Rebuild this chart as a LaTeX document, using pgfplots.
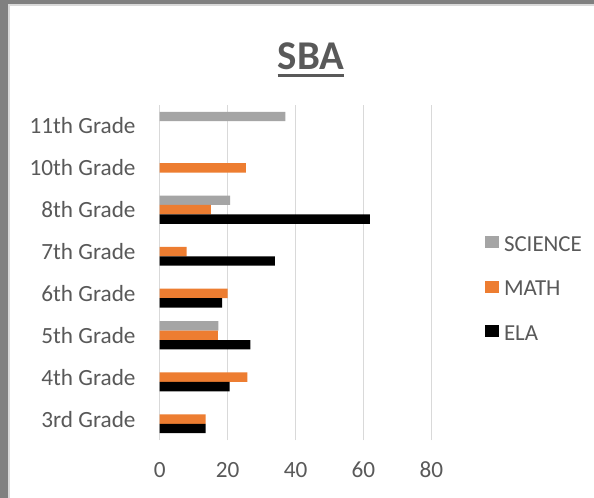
\documentclass[border=0pt]{standalone}
\usepackage{pgfplots}
\pgfplotsset{compat=1.18}
\usepackage{fontspec}
\setmainfont{Carlito}
\definecolor{txt}{HTML}{595959}
\definecolor{gridc}{HTML}{D9D9D9}
\definecolor{sci}{HTML}{A5A5A5}
\definecolor{mat}{HTML}{ED7D31}
\definecolor{ela}{HTML}{000000}
\definecolor{frame}{HTML}{808080}
\begin{document}
\begin{tikzpicture}
\fill[white] (0bp,0bp) rectangle (594bp,498bp);
\fill[frame] (0bp,0bp) rectangle (8bp,498bp);
\fill[frame] (0bp,494bp) rectangle (594bp,498bp);
\fill[gridc] (8bp,0bp) rectangle (10bp,494bp);
\fill[gridc] (8bp,492bp) rectangle (594bp,494bp);
\node[font=\fontsize{41}{48}\selectfont\bfseries, text=txt, anchor=base, inner sep=0pt] (t) at (311bp,428bp) {SBA};
\draw[txt, line width=2.7bp] ([yshift=-5.5bp]t.base west) -- ([yshift=-5.5bp]t.base east);
\begin{axis}[
  at={(159.7bp,58bp)}, anchor=south west,
  width=271.7bp, height=335bp, scale only axis,
  xbar, bar width=0.225,
  xmin=0, xmax=80, ymin=-0.5, ymax=7.5,
  xtick={0,20,40,60,80},
  ytick={0,1,2,3,4,5,6,7},
  yticklabels={3rd Grade,4th Grade,5th Grade,6th Grade,7th Grade,8th Grade,10th Grade,11th Grade},
  /pgf/number format/assume math mode=true,
  tick label style={font=\fontsize{23.3}{28}\selectfont, text=txt},
  xticklabel style={anchor=center, inner sep=0pt, yshift=-30bp},
  yticklabel style={anchor=east, inner sep=0pt, xshift=-24bp},
  major tick length=0pt,
  axis line style={draw=none},
  tick style={draw=none},
  xmajorgrids, major grid style={color=gridc, line width=1bp},
  legend style={draw=none, fill=none, inner sep=0pt, outer sep=0pt,
    at={(1.1973,0.608)}, anchor=north west,
    row sep=29.5bp, column sep=5bp,
    nodes={inner sep=0pt, outer sep=0pt, text=txt, font=\fontsize{23}{28}\selectfont, text height=15bp, text depth=0bp}},
  legend cell align=left,
  legend image code/.code={\fill[#1] (0bp,-4.5bp) rectangle (14bp,7.5bp);},
]
\addplot[fill=sci, draw=none, bar shift=0.225] coordinates {(17.3,2) (20.7,5) (37.0,7)};
\addplot[fill=mat, draw=none, bar shift=0] coordinates {(13.5,0) (25.8,1) (17.1,2) (20.0,3) (7.9,4) (15.1,5) (25.4,6)};
\addplot[fill=ela, draw=none, bar shift=-0.225] coordinates {(13.5,0) (20.6,1) (26.7,2) (18.4,3) (33.9,4) (61.9,5)};
\legend{SCIENCE,MATH,ELA}
\end{axis}
\end{tikzpicture}
\end{document}
